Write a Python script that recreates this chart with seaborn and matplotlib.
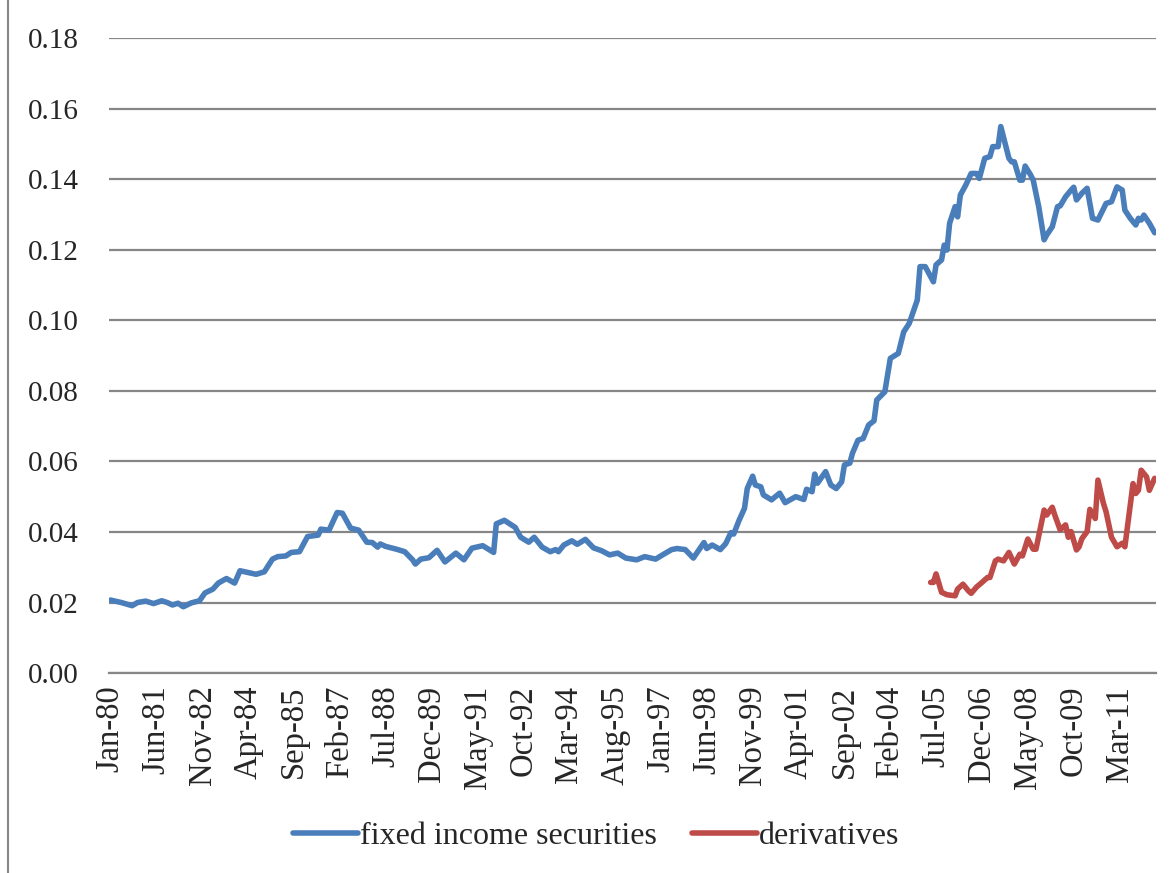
import pandas as pd
import matplotlib
matplotlib.use("Agg")
import matplotlib.pyplot as plt
import seaborn as sns

# Values (month, value)
fixed_dates = [
    "1980-01", "1980-05", "1980-09", "1980-11", "1981-02", "1981-05", "1981-08", "1981-10",
    "1981-12", "1982-02", "1982-04", "1982-07", "1982-10", "1982-12", "1983-03", "1983-05",
    "1983-08", "1983-11", "1984-01", "1984-07", "1984-10", "1985-01", "1985-03", "1985-06",
    "1985-08", "1985-11", "1986-02", "1986-06", "1986-07", "1986-10", "1987-01", "1987-03",
    "1987-06", "1987-09", "1987-12", "1988-02", "1988-04", "1988-05", "1988-07", "1988-11",
    "1989-02", "1989-05", "1989-06", "1989-08", "1989-11", "1990-02", "1990-05", "1990-09",
    "1990-12", "1991-03", "1991-07", "1991-11", "1991-12", "1992-03", "1992-06", "1992-07",
    "1992-09", "1992-12", "1993-02", "1993-05", "1993-08", "1993-10", "1993-11", "1994-01",
    "1994-04", "1994-06", "1994-09", "1994-12", "1995-03", "1995-06", "1995-09", "1995-12",
    "1996-04", "1996-07", "1996-11", "1997-02", "1997-05", "1997-07", "1997-10", "1998-01",
    "1998-05", "1998-06", "1998-08", "1998-11", "1999-01", "1999-03", "1999-04", "1999-06",
    "1999-08", "1999-09", "1999-11", "1999-12", "2000-02", "2000-03", "2000-06", "2000-09",
    "2000-11", "2001-03", "2001-06", "2001-07", "2001-09", "2001-10", "2001-11", "2002-02",
    "2002-04", "2002-06", "2002-08", "2002-09", "2002-11", "2002-12", "2003-02", "2003-04",
    "2003-06", "2003-08", "2003-09", "2003-12", "2004-02", "2004-05", "2004-07", "2004-09",
    "2004-12", "2005-01", "2005-03", "2005-06", "2005-07", "2005-09", "2005-10", "2005-11",
    "2005-12", "2006-02", "2006-03", "2006-04", "2006-06", "2006-08", "2006-10", "2006-11",
    "2007-01", "2007-03", "2007-04", "2007-06", "2007-07", "2007-10", "2007-11", "2007-12",
    "2008-02", "2008-03", "2008-04", "2008-06", "2008-07", "2008-09", "2008-11", "2008-12",
    "2009-02", "2009-04", "2009-05", "2009-07", "2009-09", "2009-10", "2009-11", "2010-01",
    "2010-03", "2010-05", "2010-07", "2010-10", "2010-12", "2011-02", "2011-04", "2011-05",
    "2011-07", "2011-09", "2011-10", "2011-11", "2011-12", "2012-02", "2012-04",
]
fixed_values = [
    0.0207, 0.0200, 0.0191, 0.0200, 0.0204, 0.0197, 0.0205, 0.0200,
    0.0193, 0.0198, 0.0188, 0.0199, 0.0205, 0.0227, 0.0238, 0.0255,
    0.0268, 0.0255, 0.0290, 0.0280, 0.0287, 0.0323, 0.0330, 0.0332,
    0.0342, 0.0344, 0.0387, 0.0391, 0.0408, 0.0405, 0.0455, 0.0453,
    0.0411, 0.0405, 0.0371, 0.0370, 0.0357, 0.0366, 0.0359, 0.0351,
    0.0344, 0.0321, 0.0309, 0.0323, 0.0327, 0.0348, 0.0315, 0.0340,
    0.0321, 0.0354, 0.0361, 0.0342, 0.0423, 0.0433, 0.0418, 0.0413,
    0.0385, 0.0371, 0.0385, 0.0357, 0.0344, 0.0350, 0.0344, 0.0363,
    0.0375, 0.0365, 0.0379, 0.0355, 0.0347, 0.0335, 0.0340, 0.0326,
    0.0321, 0.0330, 0.0323, 0.0337, 0.0350, 0.0353, 0.0350, 0.0326,
    0.0370, 0.0353, 0.0363, 0.0350, 0.0367, 0.0398, 0.0394, 0.0433,
    0.0467, 0.0523, 0.0558, 0.0533, 0.0528, 0.0505, 0.0491, 0.0510,
    0.0483, 0.0500, 0.0492, 0.0521, 0.0514, 0.0564, 0.0538, 0.0571,
    0.0533, 0.0523, 0.0542, 0.0590, 0.0595, 0.0623, 0.0660, 0.0665,
    0.0703, 0.0715, 0.0774, 0.0797, 0.0892, 0.0906, 0.0967, 0.0991,
    0.1057, 0.1152, 0.1152, 0.1109, 0.1157, 0.1171, 0.1213, 0.1199,
    0.1275, 0.1322, 0.1293, 0.1355, 0.1383, 0.1416, 0.1416, 0.1402,
    0.1459, 0.1464, 0.1492, 0.1492, 0.1549, 0.1459, 0.1449, 0.1449,
    0.1397, 0.1397, 0.1437, 0.1412, 0.1397, 0.1322, 0.1228, 0.1242,
    0.1265, 0.1322, 0.1324, 0.1350, 0.1369, 0.1377, 0.1341, 0.1360,
    0.1374, 0.1289, 0.1284, 0.1331, 0.1336, 0.1378, 0.1369, 0.1312,
    0.1289, 0.1270, 0.1289, 0.1284, 0.1298, 0.1275, 0.1248,
]

deriv_dates = [
    "2005-05", "2005-06", "2005-07", "2005-09", "2005-11", "2006-02", "2006-03", "2006-05",
    "2006-07", "2006-08", "2006-10", "2006-12", "2007-02", "2007-03", "2007-05", "2007-06",
    "2007-08", "2007-10", "2007-12", "2008-02", "2008-03", "2008-05", "2008-07", "2008-08",
    "2008-11", "2008-12", "2009-02", "2009-03", "2009-05", "2009-07", "2009-08", "2009-09",
    "2009-11", "2009-12", "2010-01", "2010-03", "2010-04", "2010-06", "2010-07", "2010-09",
    "2010-10", "2010-12", "2011-02", "2011-04", "2011-05", "2011-08", "2011-09", "2011-10",
    "2011-11", "2012-01", "2012-02", "2012-04",
]
deriv_values = [
    0.0257, 0.0257, 0.0281, 0.0229, 0.0222, 0.0219, 0.0238, 0.0252,
    0.0233, 0.0226, 0.0244, 0.0257, 0.0271, 0.0271, 0.0318, 0.0323,
    0.0318, 0.0342, 0.0309, 0.0337, 0.0332, 0.0380, 0.0351, 0.0351,
    0.0462, 0.0448, 0.0470, 0.0448, 0.0406, 0.0420, 0.0385, 0.0401,
    0.0349, 0.0358, 0.0381, 0.0401, 0.0464, 0.0438, 0.0547, 0.0481,
    0.0457, 0.0385, 0.0358, 0.0368, 0.0358, 0.0537, 0.0509, 0.0518,
    0.0575, 0.0556, 0.0518, 0.0552,
]

y_ticks = [0.00, 0.02, 0.04, 0.06, 0.08, 0.10, 0.12, 0.14, 0.16, 0.18]

df = pd.concat([
    pd.DataFrame({"date": pd.to_datetime(fixed_dates), "value": fixed_values,
                  "series": "fixed income securities"}),
    pd.DataFrame({"date": pd.to_datetime(deriv_dates), "value": deriv_values,
                  "series": "derivatives"}),
])

sns.set_theme(style="white")
plt.rcParams["font.family"] = ["Liberation Serif", "DejaVu Serif"]

fig = plt.figure(figsize=(11.73, 8.73), dpi=100)
ax = fig.add_axes([0.093, 0.229, 0.8925, 0.7275])

palette = {"fixed income securities": "#4A7EBB", "derivatives": "#BE4B48"}
sns.lineplot(data=df, x="date", y="value", hue="series", palette=palette,
             linewidth=4.0, ax=ax, legend=False)

# x ticks every 17 months like the Excel axis
xticks = pd.date_range("1980-01-01", periods=23, freq="17MS")
ax.set_xticks(xticks)
ax.set_xticklabels([d.strftime("%b-%y") for d in xticks], rotation=90, fontsize=23.5)
ax.set_xlim(pd.Timestamp("1979-12-16"), pd.Timestamp("2012-04-16"))

ax.set_ylim(0, 0.18)
ax.set_yticks(y_ticks)
ax.set_yticklabels([f"{v:.2f}" for v in y_ticks], fontsize=21)
ax.tick_params(axis="x", length=0, pad=9)
ax.tick_params(axis="y", length=0, pad=22)
ax.yaxis.grid(True, color="#868686", linewidth=1.6)
ax.set_axisbelow(True)
for s in ["left", "right", "top"]:
    ax.spines[s].set_visible(False)
ax.spines["bottom"].set_color("#868686")
ax.spines["bottom"].set_linewidth(1.6)
ax.set_xlabel("")
ax.set_ylabel("")

handles = [plt.Line2D([], [], color=palette[k], linewidth=4) for k in palette]
fig.legend(handles, list(palette), loc="center", bbox_to_anchor=(0.508, 0.042), ncol=2,
           frameon=False, fontsize=23, handlelength=2.05, handletextpad=0.05,
           columnspacing=1.1)

# chart area border
fig.add_artist(plt.Rectangle((0.007, -0.01), 1.0, 1.02, transform=fig.transFigure,
                             fill=False, edgecolor="#868686", linewidth=1.5))

fig.savefig("out.png", dpi=100)
